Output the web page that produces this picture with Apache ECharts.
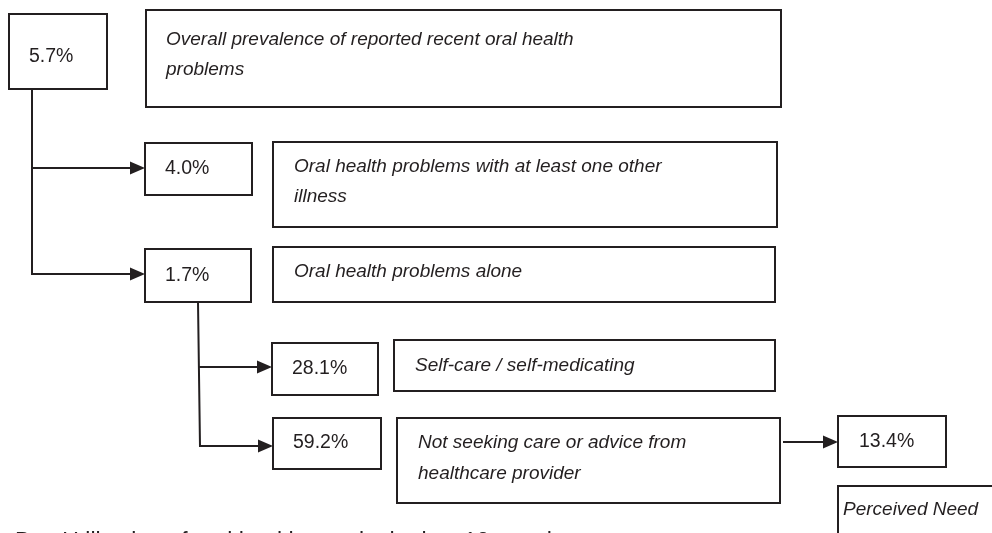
<!DOCTYPE html>
<html><head><meta charset="utf-8">
<script src="https://cdn.jsdelivr.net/npm/echarts@6/dist/echarts.min.js"></script>
<style>html,body{margin:0;padding:0;background:#fff}#c{width:992px;height:533px}</style>
</head><body><div id="c"></div>
<script>
// ---- content ----
const percentages = ['5.7%', '4.0%', '1.7%', '28.1%', '59.2%', '13.4%'];
const descriptions = [
  ['Overall prevalence of reported recent oral health', 'problems'],
  ['Oral health problems with at least one other', 'illness'],
  ['Oral health problems alone'],
  ['Self-care / self-medicating'],
  ['Not seeking care or advice from', 'healthcare provider'],
  ['Perceived Need']
];
const caption = 'B.    Utilization of oral health care in the last 12 months';

// ---- layout (diagram units, mapped through hidden value axes) ----
// [x, y, w, h, textX, textMidY]
const pctLayout = [
  [9, 14, 98, 75, 29, 57],
  [145, 143, 107, 52, 165, 169],
  [145, 249, 106, 53, 165, 276],
  [272, 343, 106, 52, 292, 369],
  [273, 418, 108, 51, 293, 443],
  [838, 416, 108, 51, 859, 442]
];
// [x, y, w, h, textX, textMidY, lineGap]
const descLayout = [
  [146, 10, 635, 97, 166, 40, 30],
  [273, 142, 504, 85, 294, 167, 30],
  [273, 247, 502, 55, 294, 272, 0],
  [394, 340, 381, 51, 415, 366, 0],
  [397, 418, 383, 85, 418, 443, 31],
  [838, 486, 170, 70, 843, 510, 0]
];
const connectorLayout = [
  [[32, 89], [32, 274], [145, 274]],
  [[32, 168], [145, 168]],
  [[198, 302], [200, 446], [273, 446]],
  [[198, 367], [272, 367]],
  [[783, 442], [838, 442]]
];
const captionLayout = [15, 543];

const INK = '#231f20';
const FONT = '"Liberation Sans", Arial, Helvetica, sans-serif';

function boxItem(api, lay, lines, italic) {
  const p = api.coord([lay[0], lay[1]]);
  const p2 = api.coord([lay[0] + lay[2], lay[1] + lay[3]]);
  const children = [{
    type: 'rect',
    shape: { x: p[0], y: p[1], width: p2[0] - p[0], height: p2[1] - p[1] },
    style: { fill: '#fff', stroke: INK, lineWidth: 2 }
  }];
  lines.forEach((t, i) => {
    const tp = api.coord([lay[4], lay[5] + i * (lay[6] || 0)]);
    children.push({
      type: 'text',
      style: {
        text: t, x: tp[0], y: tp[1], fill: INK,
        fontSize: italic ? 19 : 19.5, fontFamily: FONT, fontStyle: italic ? 'italic' : 'normal',
        align: 'left', verticalAlign: 'middle'
      }
    });
  });
  return { type: 'group', children };
}

const chart = echarts.init(document.getElementById('c'), null, { renderer: 'canvas' });
chart.setOption({
  animation: false,
  backgroundColor: '#fff',
  grid: { left: 0, right: 0, top: 0, bottom: 0 },
  xAxis: { type: 'value', min: 0, max: 992, show: false },
  yAxis: { type: 'value', min: 0, max: 533, inverse: true, show: false },
  series: [
    {
      type: 'custom', clip: false, silent: true,
      data: connectorLayout.map((_, i) => [i]),
      renderItem: function (params, api) {
        const pts = connectorLayout[params.dataIndex].map(q => api.coord(q));
        const end = pts[pts.length - 1];
        const tipLen = 15, half = 6.5;
        const shaft = pts.slice(0, -1).concat([[end[0] - tipLen + 1, end[1]]]);
        return {
          type: 'group',
          children: [
            { type: 'polyline', shape: { points: shaft }, style: { stroke: INK, lineWidth: 2, fill: null } },
            { type: 'polygon', shape: { points: [[end[0], end[1]], [end[0] - tipLen, end[1] - half], [end[0] - tipLen, end[1] + half]] }, style: { fill: INK } }
          ]
        };
      }
    },
    {
      type: 'custom', clip: false, silent: true,
      data: percentages.map((_, i) => [i]),
      renderItem: function (params, api) {
        return boxItem(api, pctLayout[params.dataIndex], [percentages[params.dataIndex]], false);
      }
    },
    {
      type: 'custom', clip: false, silent: true,
      data: descriptions.map((_, i) => [i]),
      renderItem: function (params, api) {
        return boxItem(api, descLayout[params.dataIndex], descriptions[params.dataIndex], true);
      }
    },
    {
      type: 'custom', clip: false, silent: true,
      data: [[0]],
      renderItem: function (params, api) {
        const tp = api.coord(captionLayout);
        return {
          type: 'text',
          style: { text: caption, x: tp[0], y: tp[1], fill: INK, fontSize: 23, fontFamily: FONT, align: 'left', verticalAlign: 'middle' }
        };
      }
    }
  ]
});
</script></body></html>
